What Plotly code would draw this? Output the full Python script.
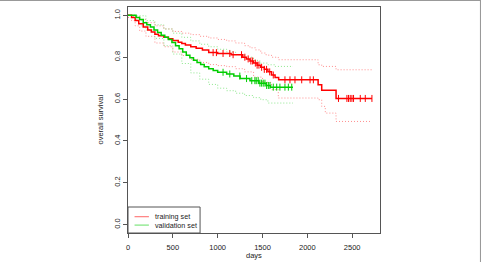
import numpy as np
import plotly.graph_objects as go

# ---- data ----
red_t = [0, 40, 80, 120, 170, 220, 260, 300, 340, 400, 450, 500, 560, 600, 640, 700, 760, 830, 900,
         1000, 1150, 1280, 1320, 1360, 1400, 1440, 1480, 1520, 1560, 1600, 1640, 1680, 2120, 2160, 2320, 2720]
red_s = [1.0, 0.99, 0.975, 0.96, 0.945, 0.93, 0.92, 0.91, 0.903, 0.895, 0.888, 0.88, 0.872, 0.865, 0.858, 0.85,
         0.843, 0.835, 0.822, 0.818, 0.812, 0.80, 0.792, 0.782, 0.772, 0.762, 0.752, 0.742, 0.73, 0.715, 0.703,
         0.692, 0.668, 0.642, 0.603, 0.603]
red_ut = [0, 60, 130, 200, 300, 400, 500, 600, 700, 800, 900, 1000, 1100, 1200, 1300, 1360, 1420, 1480, 1540,
          1600, 1676, 2120, 2160, 2320, 2720]
red_u = [1.0, 0.995, 0.98, 0.965, 0.95, 0.935, 0.923, 0.915, 0.908, 0.9, 0.892, 0.885, 0.878, 0.868, 0.855,
         0.845, 0.835, 0.82, 0.81, 0.8, 0.788, 0.764, 0.756, 0.74, 0.74]
red_lt = [0, 40, 80, 130, 200, 300, 400, 500, 600, 700, 800, 900, 1000, 1100, 1200, 1300, 1400, 1500, 1600,
          1676, 2120, 2160, 2200, 2320, 2720]
red_l = [0.99, 0.975, 0.95, 0.925, 0.9, 0.868, 0.85, 0.825, 0.808, 0.79, 0.775, 0.765, 0.76, 0.755, 0.745,
         0.73, 0.705, 0.68, 0.645, 0.605, 0.597, 0.565, 0.533, 0.493, 0.493]

green_t = [0, 90, 130, 170, 210, 250, 290, 330, 370, 410, 450, 490, 530, 570, 610, 650, 690, 730, 770, 810,
           850, 900, 950, 1000, 1100, 1180, 1250, 1360, 1460, 1540, 1590, 1840]
green_s = [1.0, 0.99, 0.98, 0.965, 0.955, 0.945, 0.93, 0.918, 0.905, 0.895, 0.885, 0.87, 0.855, 0.84, 0.825,
           0.81, 0.797, 0.785, 0.775, 0.765, 0.755, 0.745, 0.737, 0.728, 0.72, 0.71, 0.698, 0.688, 0.676,
           0.665, 0.657, 0.657]
green_ut = [0, 90, 200, 300, 400, 500, 600, 700, 800, 900, 1000, 1100, 1200, 1300, 1400, 1470, 1560, 1640, 1840]
green_u = [1.0, 0.998, 0.975, 0.955, 0.935, 0.915, 0.895, 0.878, 0.862, 0.85, 0.838, 0.825, 0.812, 0.8,
           0.785, 0.772, 0.764, 0.756, 0.756]
green_lt = [0, 90, 150, 200, 300, 400, 500, 600, 700, 800, 900, 1000, 1100, 1200, 1300, 1400, 1480, 1560, 1840]
green_l = [1.0, 0.975, 0.95, 0.93, 0.89, 0.855, 0.815, 0.77, 0.725, 0.695, 0.67, 0.652, 0.64, 0.628, 0.617,
           0.607, 0.597, 0.581, 0.581]

red_cens = [949, 986, 1060, 1135, 1172, 1266, 1303, 1340, 1370, 1390, 1420, 1440, 1460, 1490, 1520, 1545,
            1580, 1620, 1750, 1806, 1862, 1937, 2030, 2067, 2347, 2441, 2459, 2478, 2497, 2515, 2590, 2646, 2720]
green_cens = [1060, 1135, 1247, 1322, 1380, 1415, 1430, 1452, 1471, 1490, 1508, 1527, 1546, 1565, 1583,
              1620, 1658, 1694, 1750, 1788, 1826]

x_ticks = [0, 500, 1000, 1500, 2000, 2500]
y_ticks = [0.0, 0.2, 0.4, 0.6, 0.8, 1.0]
legend_names = ["training set", "validation set"]

RED = "#FF0000"
GREEN = "#00CD00"
FONT = "Liberation Sans, Arial, sans-serif"


def step_at(ts, ss, q):
    ts = np.asarray(ts)
    ss = np.asarray(ss)
    idx = np.searchsorted(ts, np.asarray(q), side="right") - 1
    return ss[np.clip(idx, 0, len(ss) - 1)]


fig = go.Figure()

for t, s, col in [(red_ut, red_u, RED), (red_lt, red_l, RED), (green_ut, green_u, GREEN), (green_lt, green_l, GREEN)]:
    fig.add_trace(go.Scatter(x=t, y=s, mode="lines",
                             line=dict(color=col, width=0.8, dash="1px,2px", shape="hv"),
                             opacity=0.55, showlegend=False, hoverinfo="skip"))

for t, s, cens, col in [(red_t, red_s, red_cens, RED), (green_t, green_s, green_cens, GREEN)]:
    fig.add_trace(go.Scatter(x=t, y=s, mode="lines", line=dict(color=col, width=1.5, shape="hv"),
                             showlegend=False))
    fig.add_trace(go.Scatter(x=cens, y=step_at(t, s, cens), mode="markers",
                             marker=dict(symbol="line-ns", size=5, line=dict(color=col, width=1)),
                             showlegend=False))

axis_common = dict(showline=True, linecolor="#555555", linewidth=1, mirror=True, ticks="outside",
                   ticklen=4, tickcolor="#555555", showgrid=False, zeroline=False,
                   tickfont=dict(family=FONT, size=7.5, color="#222222"))

fig.update_xaxes(range=[0, 2810], tickvals=x_ticks, ticktext=[str(v) for v in x_ticks],
                 ticklabelstandoff=3, **axis_common)
fig.update_yaxes(range=[-0.04, 1.04], tickvals=y_ticks, ticktext=[f"{v:.1f}" for v in y_ticks],
                 tickangle=-90, **axis_common)

shapes = [
    # legend box
    dict(type="rect", xref="paper", yref="paper", x0=0, x1=0.286, y0=0, y1=0.115,
         line=dict(color="#555555", width=1), fillcolor="white"),
    dict(type="line", xref="paper", yref="paper", x0=0.026, x1=0.083, y0=0.072, y1=0.072,
         line=dict(color=RED, width=1), opacity=0.6),
    dict(type="line", xref="paper", yref="paper", x0=0.026, x1=0.083, y0=0.035, y1=0.035,
         line=dict(color=GREEN, width=1), opacity=0.6),
    # image frame (top and right)
    dict(type="line", xref="paper", yref="paper", x0=-0.6, x1=1.45, y0=1.030, y1=1.030,
         line=dict(color="#999999", width=1.5)),
    dict(type="line", xref="paper", yref="paper", x0=1.3996, x1=1.3996, y0=-0.2, y1=1.05,
         line=dict(color="#999999", width=1.5)),
]

annotations = [
    dict(text=legend_names[0], xref="paper", yref="paper", x=0.1, y=0.072, xanchor="left", yanchor="middle",
         showarrow=False, font=dict(family=FONT, size=7.2, color="#222222")),
    dict(text=legend_names[1], xref="paper", yref="paper", x=0.1, y=0.035, xanchor="left", yanchor="middle",
         showarrow=False, font=dict(family=FONT, size=7.2, color="#222222")),
    dict(text="days", xref="paper", yref="paper", x=0.5, y=-0.1, xanchor="center", yanchor="middle",
         showarrow=False, font=dict(family=FONT, size=7.5, color="#222222")),
    dict(text="overall survival", xref="paper", yref="paper", x=-0.113, y=0.5, xanchor="center",
         yanchor="middle", textangle=-90, showarrow=False, font=dict(family=FONT, size=7.5, color="#222222")),
]

fig.update_layout(width=481, height=262, margin=dict(l=128, r=101, t=7, b=29),
                  paper_bgcolor="white", plot_bgcolor="white", showlegend=False,
                  shapes=shapes, annotations=annotations)

fig.write_html("out.html")
